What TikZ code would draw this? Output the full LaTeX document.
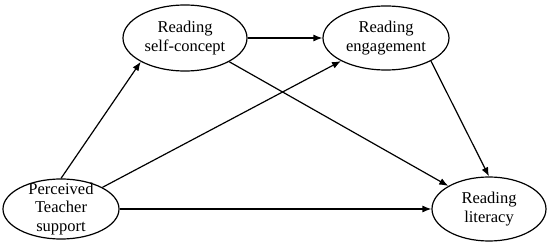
\documentclass[tikz,border=0pt]{standalone}
\usepackage{fontspec}
\setmainfont{Liberation Serif}
\usepackage{tikz}
\usetikzlibrary{arrows.meta,shapes.geometric}

\begin{document}
\begin{tikzpicture}[
        x=1pt, y=-1pt,
        var/.style={draw, ellipse, line width=1.2pt, inner sep=-20pt, align=center, font=\fontsize{16.5}{18.5}\selectfont},
        arr/.style={-{Latex[length=9pt,width=7pt]}, line width=1.2pt}
      ]
      \useasboundingbox (0,0) rectangle (550,246);

      % Variables
      \node[var, minimum width=116pt, minimum height=60pt] (pts) at (61,209) {Perceived\\Teacher\\support};
      \node[var, minimum width=124pt, minimum height=66pt] (sc) at (185,38) {Reading\\self-concept};
      \node[var, minimum width=126pt, minimum height=64pt] (eng) at (386,38) {Reading\\engagement};
      \node[var, minimum width=114pt, minimum height=64pt] (lit) at (489,209) {Reading\\literacy};

      % Paths
      \draw[arr] (pts.north) -- (sc.south west);
      \draw[arr] (pts.north east) -- (eng.south west);
      \draw[arr] (pts.east) -- (lit.west);
      \draw[arr] (sc.east) -- (eng.west);
      \draw[arr] (sc.south east) -- (lit.north west);
      \draw[arr] (eng.south east) -- (lit.north);

\end{tikzpicture}
\end{document}
